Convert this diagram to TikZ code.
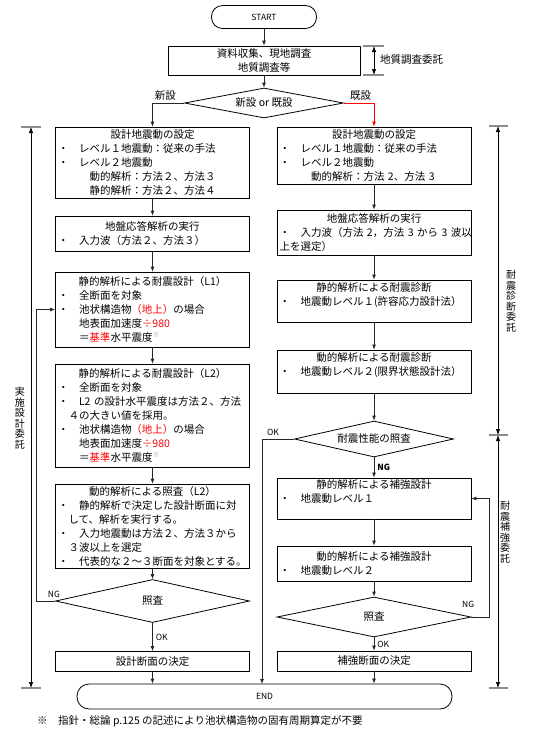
\documentclass[tikz,border=0pt]{standalone}
\usepackage{fontspec}
\setmainfont{Noto Sans CJK JP}
\usepackage{tikz}
\usetikzlibrary{arrows.meta,positioning,calc,shapes.geometric}
\usepackage{xcolor}
\definecolor{hilite}{HTML}{FF0000}
\definecolor{tickgray}{HTML}{8C8C8C}
\definecolor{notegray}{HTML}{A8A8A8}
\newcommand{\jpfont}{\fontsize{10.5}{14}\selectfont}
\newcommand{\lblfont}{\fontsize{8.5}{10}\selectfont}
\newcommand{\vfont}{\fontsize{10}{10.5}\selectfont}
\newcommand{\ttl}[1]{\makebox[\linewidth][c]{#1}}
\newcommand{\redtxt}[1]{\textcolor{hilite}{#1}}
\newcommand{\kome}{\textsuperscript{\textcolor{notegray}{※}}}
\tikzset{
  terminal/.style={draw,rounded corners=11pt,minimum height=23pt,inner sep=0pt,
    font=\lblfont,line width=0.8pt},
  procbox/.style={draw,text width=189pt,inner xsep=2.5pt,inner ysep=1.5pt,
    align=left,font=\jpfont,line width=0.8pt},
  plainbox/.style={draw,minimum width=194pt,inner sep=2pt,align=center,
    font=\jpfont,line width=0.8pt},
  decision/.style={draw,diamond,aspect=5,inner sep=0pt,font=\jpfont,line width=0.8pt},
  arrow/.style={-{Latex[length=5pt,width=4pt]},draw=black!85,line width=0.8pt},
  dimline/.style={{Latex[length=6pt,width=4.5pt]}-{Latex[length=6pt,width=4.5pt]},
    draw=black,line width=0.7pt},
  dimtick/.style={draw=tickgray,line width=1.3pt},
  labelstyle/.style={font=\lblfont,inner sep=1pt},
  vlabel/.style={font=\vfont,align=center,inner sep=0pt}
}
\begin{document}
\begin{tikzpicture}[x=1pt,y=-1pt]
\useasboundingbox (0,0) rectangle (539,729);
% start and survey
\node[terminal,minimum width=105pt] (start) at (264,17) {START};
\node[plainbox,minimum width=192pt,minimum height=29pt] (survey) at (264,60.5)
  {資料収集、現地調査\\地質調査等};
\node[decision,minimum width=159pt,minimum height=30pt] (kind) at (264,103) {新設 or 既設};
\node[labelstyle,font=\jpfont,anchor=south east] at ([xshift=-7pt,yshift=1pt]kind.west) {新設};
\node[labelstyle,font=\jpfont,anchor=south west] at ([xshift=5pt,yshift=1pt]kind.east) {既設};

% new construction
\node[procbox,minimum height=71pt] (ldesign) at (152.5,162.5)
  {\ttl{設計地震動の設定}\\・　レベル１地震動：従来の手法\\・　レベル２地震動\\　　　動的解析：方法２、方法３\\　　　静的解析：方法２、方法４};
\node[procbox,minimum height=35pt] (lresp) at (152.5,233.5)
  {\ttl{地盤応答解析の実行}\\・　入力波（方法２、方法３）};
\node[procbox,minimum height=75pt] (lstat1) at (152.5,309.5)
  {\ttl{静的解析による耐震設計（L1）}\\・　全断面を対象\\・　池状構造物\redtxt{（地上）}の場合\\　　地表面加速度\redtxt{÷980}\\　　＝\redtxt{基準}水平震度\kome};
\node[procbox,minimum height=103pt] (lstat2) at (152.5,415.5)
  {\ttl{静的解析による耐震設計（L2）}\\・　全断面を対象\\・　L2~の設計水平震度は方法２、方法\\　４の大きい値を採用。\\・　池状構造物\redtxt{（地上）}の場合\\　　地表面加速度\redtxt{÷980}\\　　＝\redtxt{基準}水平震度\kome};
\node[procbox,minimum height=84pt] (ldyn) at (152.5,526)
  {\ttl{動的解析による照査（L2）}\\・　静的解析で決定した設計断面に対\\　して、解析を実行する。\\・　入力地震動は方法２、方法３から\\　３波以上を選定\\・　代表的な２～３断面を対象とする。};
\node[decision,minimum width=194pt,minimum height=43pt] (lcheck) at (152.5,601) {照査};
\node[plainbox,minimum height=20pt] (lfinal) at (152.5,661.5) {設計断面の決定};

% existing structure
\node[procbox,minimum height=57pt] (rdesign) at (374,155.5)
  {\ttl{設計地震動の設定}\\・　レベル１地震動：従来の手法\\・　レベル２地震動\\　　　動的解析：方法~2、方法~3};
\node[procbox,minimum height=45pt] (rresp) at (374,232.5)
  {\ttl{地盤応答解析の実行}\\・　入力波（方法~2，方法~3~から~3~波以\\上を選定）};
\node[procbox,minimum height=42pt] (rstat) at (374,301)
  {\ttl{静的解析による耐震診断}\\・　地震動レベル１(許容応力設計法）\\\mbox{}};
\node[procbox,minimum height=43pt] (rdyn) at (374,371.5)
  {\ttl{動的解析による耐震診断}\\・　地震動レベル２(限界状態設計法）\\\mbox{}};
\node[decision,minimum width=159pt,minimum height=36pt] (rcheck) at (374,439) {耐震性能の照査};
\node[procbox,minimum height=41pt] (rstr1) at (374,498.5)
  {\ttl{静的解析による補強設計}\\・　地震動レベル１\\\mbox{}};
\node[procbox,minimum height=35pt] (rstr2) at (374,563.5)
  {\ttl{動的解析による補強設計}\\・　地震動レベル２};
\node[decision,minimum width=194pt,minimum height=40pt] (rcheck2) at (374,617) {照査};
\node[plainbox,minimum height=20pt] (rfinal) at (374,661) {補強断面の決定};

\node[terminal,minimum width=375pt,minimum height=25pt,rounded corners=12pt] (finish) at (264.5,696.5) {END};
\node[anchor=west,font=\jpfont,inner sep=0pt] (note) at (37,721)
  {※　指針・総論 p.125 の記述により池状構造物の固有周期算定が不要};

% flow
\draw[arrow] (start) -- (survey);
\draw[arrow] (survey) -- (kind);
\draw[arrow] (kind.west) -| (ldesign.north);
\draw[arrow,draw=hilite] (kind.east) -| (rdesign.north);
\draw[arrow] (ldesign) -- (lresp);
\draw[arrow] (lresp) -- (lstat1);
\draw[arrow] (lstat1) -- (lstat2);
\draw[arrow] (lstat2) -- (ldyn);
\draw[arrow] (ldyn) -- (lcheck);
\draw[arrow] (lcheck) -- (lfinal) node[labelstyle,midway,right=2pt] {OK};
\draw[arrow] (lfinal) -- (lfinal |- finish.north);
\coordinate (lloop) at (36,601);
\draw[arrow] (lcheck.west) -- (lloop) |- (lstat1.west);
\node[labelstyle,anchor=south east] at ([xshift=6pt,yshift=2pt]lcheck.west) {NG};

\draw[arrow] (rdesign) -- (rresp);
\draw[arrow] (rresp) -- (rstat);
\draw[arrow] (rstat) -- (rdyn);
\draw[arrow] (rdyn) -- (rcheck);
\draw[arrow] (rcheck) -- (rstr1) node[labelstyle,midway,right=2pt,font=\lblfont\bfseries] {NG};
\draw[arrow] (rstr1) -- (rstr2);
\draw[arrow] (rstr2) -- (rcheck2);
\draw[arrow] (rcheck2) -- (rfinal) node[labelstyle,midway,right=2pt] {OK};
\draw[arrow] (rfinal) -- (rfinal |- finish.north);
\coordinate (rok) at (262,684);
\draw[arrow] (rcheck.west) -| (rok);
\node[labelstyle,anchor=south east] at ([xshift=-14pt,yshift=2pt]rcheck.west) {OK};
\coordinate (rloop) at (489,617);
\draw[arrow] (rcheck2.east) -- (rloop) |- (rstr1.east);
\node[labelstyle,anchor=south east] at ([xshift=4pt,yshift=8pt]rcheck2.east) {NG};

% contract ranges
\coordinate (gtop) at (374,46);
\coordinate (gbot) at (374,75);
\draw[dimtick] ([xshift=-11pt]gtop) -- ([xshift=10pt]gtop);
\draw[dimtick] ([xshift=-11pt]gbot) -- ([xshift=10pt]gbot);
\draw[dimline] (gtop) -- (gbot);
\node[anchor=west,font=\jpfont,inner sep=0pt] (geo) at (380,60) {地質調査委託};

\coordinate (ltop) at (31,127);
\coordinate (lbot) at (31,688);
\draw[dimtick] ([xshift=-10pt]ltop) -- ([xshift=10pt]ltop);
\draw[dimtick] ([xshift=-10pt]lbot) -- ([xshift=10pt]lbot);
\draw[dimline] (ltop) -- (lbot);
\node[vlabel] (impl) at (20,418) {実\\施\\設\\計\\委\\託};

\coordinate (rtop) at (498,126);
\coordinate (rmid) at (498,435);
\coordinate (rbot) at (498,688);
\foreach \p in {rtop,rmid,rbot}
  \draw[dimtick] ([xshift=-9pt]\p) -- ([xshift=10pt]\p);
\draw[dimline] (rtop) -- (rmid);
\draw[dimline] (rmid) -- (rbot);
\node[vlabel] (diag) at (511,301) {耐\\震\\診\\断\\委\\託};
\node[vlabel] (retro) at (505,532) {耐\\震\\補\\強\\委\\託};
\end{tikzpicture}
\end{document}
